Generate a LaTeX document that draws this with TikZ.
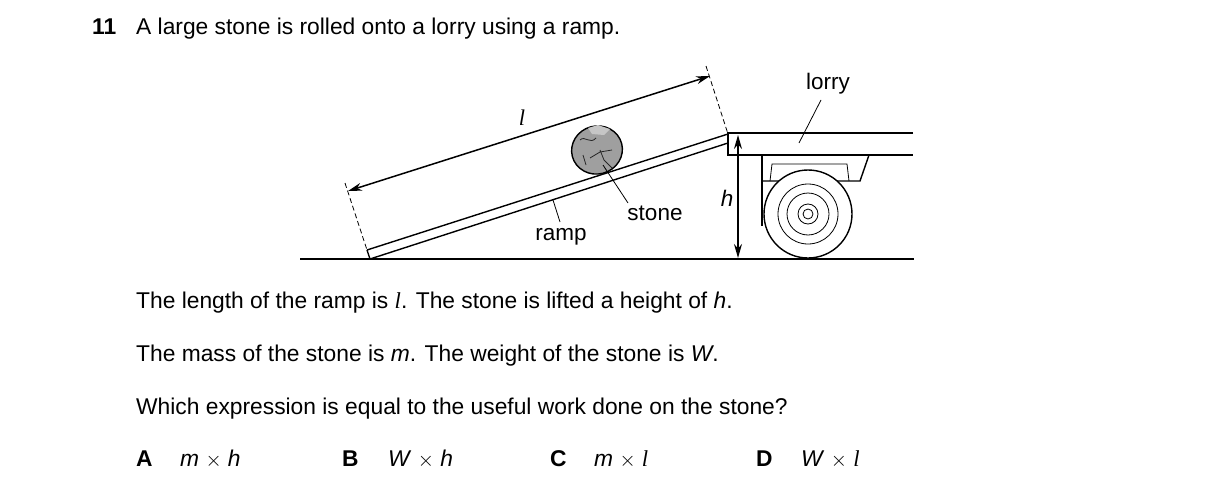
\documentclass[tikz,border=0pt]{standalone}
\usepackage{fontspec}
\setmainfont{Liberation Sans}
\newfontfamily\lserif{Liberation Serif}
\usetikzlibrary{arrows.meta,shapes.geometric}
\newcommand{\ltr}{{\lserif\itshape l}}
\begin{document}
\begin{tikzpicture}[x=1pt,y=-1pt,
  txt/.style={font=\fontsize{22.8}{26}\selectfont,inner sep=0pt,anchor=base west},
  lbl/.style={font=\fontsize{22.5}{26}\selectfont,inner sep=0pt},
  ln/.style={line width=1.4pt},
  thin/.style={line width=0.8pt},
  dim/.style={line width=1.5pt,{Stealth[length=14pt,width=8pt]}-{Stealth[length=14pt,width=8pt]}}]
\useasboundingbox (0,0) rectangle (1216,490);
% title
\node[txt,font=\fontsize{22.8}{26}\selectfont\bfseries] (n11) at (92,34) {11};
\node[txt] (t1) at (136,34) {A large stone is rolled onto a lorry using a ramp.};
% ground
\coordinate (g1) at (300,259); \coordinate (g2) at (914,259);
\draw[ln] (g1) -- (g2);
% ramp
\coordinate (r1) at (367,250); \coordinate (r2) at (728,134);
\coordinate (r3) at (370,259); \coordinate (r4) at (728,143);
\draw[ln] (r1) -- (r2) (r3) -- (r4) (r1) -- (r3);
% lorry deck
\draw[ln] (913,133) -- (728,133) -- (728,155) -- (913,155);
\draw[ln] (762,155) -- (762,226);
\draw[ln] (869,155) -- (860,181) -- (762,181);
\draw[thin] (770,181) -- (772,164) -- (847,164) -- (849,181);
% wheel
\node[circle,draw,line width=1.4pt,fill=white,minimum size=88pt,inner sep=0pt] (wheel) at (808,214) {};
\foreach \r in {30,21,10,5}{\draw[thin] (wheel.center) circle (\r);}
% h dimension
\coordinate (h1) at (738,135); \coordinate (h2) at (738,258);
\draw[dim] (h1) -- (h2);
\node[lbl,font=\fontsize{22.5}{26}\selectfont\itshape] (h) at (727,198) {h};
% l dimension
\coordinate (e1) at (345,183); \coordinate (e2) at (706,66);
\draw[thin,dash pattern=on 5pt off 3pt] (e1) -- (r1) (e2) -- (r2);
\coordinate (l1) at (348,191); \coordinate (l2) at (710,76);
\draw[dim] (l1) -- (l2);
\node[lbl] (l) at (522,118) {\ltr};
% stone
\node[ellipse,draw,line width=1.4pt,fill=gray!75,minimum width=51pt,minimum height=48pt,inner sep=0pt,rotate=15] (stone) at (597,150) {};
\fill[gray!45] (588,128) -- (598,125) -- (610,129) -- (604,135) -- (592,134) -- cycle;
\draw[thin,gray!30!black] (580,140) .. controls (585,135) and (590,145) .. (596,138) (600,150) -- (604,160) -- (612,168) (590,158) -- (600,152) -- (612,150) (583,155) -- (586,165);
% leaders
\coordinate (s1) at (603,165); \coordinate (s2) at (628,203);
\draw[thin] (s1) -- (s2);
\node[lbl] (stonel) at (655,213) {stone};
\coordinate (p1) at (553,200); \coordinate (p2) at (560,222);
\draw[thin] (p1) -- (p2);
\node[lbl] (rampl) at (561,237) {ramp};
\coordinate (q1) at (821,100); \coordinate (q2) at (799,143);
\draw[thin] (q1) -- (q2);
\node[lbl] (lorryl) at (828,84) {lorry};
% text
\node[txt] (t2) at (136,308) {The length of the ramp is \ltr. The stone is lifted a height of \textit{h}.};
\node[txt] (t3) at (136,361) {The mass of the stone is \textit{m}. The weight of the stone is \textit{W}.};
\node[txt] (t4) at (136,414) {Which expression is equal to the useful work done on the stone?};
\node[txt,font=\fontsize{22.8}{26}\selectfont\bfseries] (oA) at (136,466) {A};
\node[txt] (aA) at (180,466) {\textit{m} $\times$ \textit{h}};
\node[txt,font=\fontsize{22.8}{26}\selectfont\bfseries] (oB) at (342,466) {B};
\node[txt] (aB) at (388,466) {\textit{W} $\times$ \textit{h}};
\node[txt,font=\fontsize{22.8}{26}\selectfont\bfseries] (oC) at (550,466) {C};
\node[txt] (aC) at (594,466) {\textit{m} $\times$ \ltr};
\node[txt,font=\fontsize{22.8}{26}\selectfont\bfseries] (oD) at (756,466) {D};
\node[txt] (aD) at (801,466) {\textit{W} $\times$ \ltr};
\end{tikzpicture}
\end{document}
